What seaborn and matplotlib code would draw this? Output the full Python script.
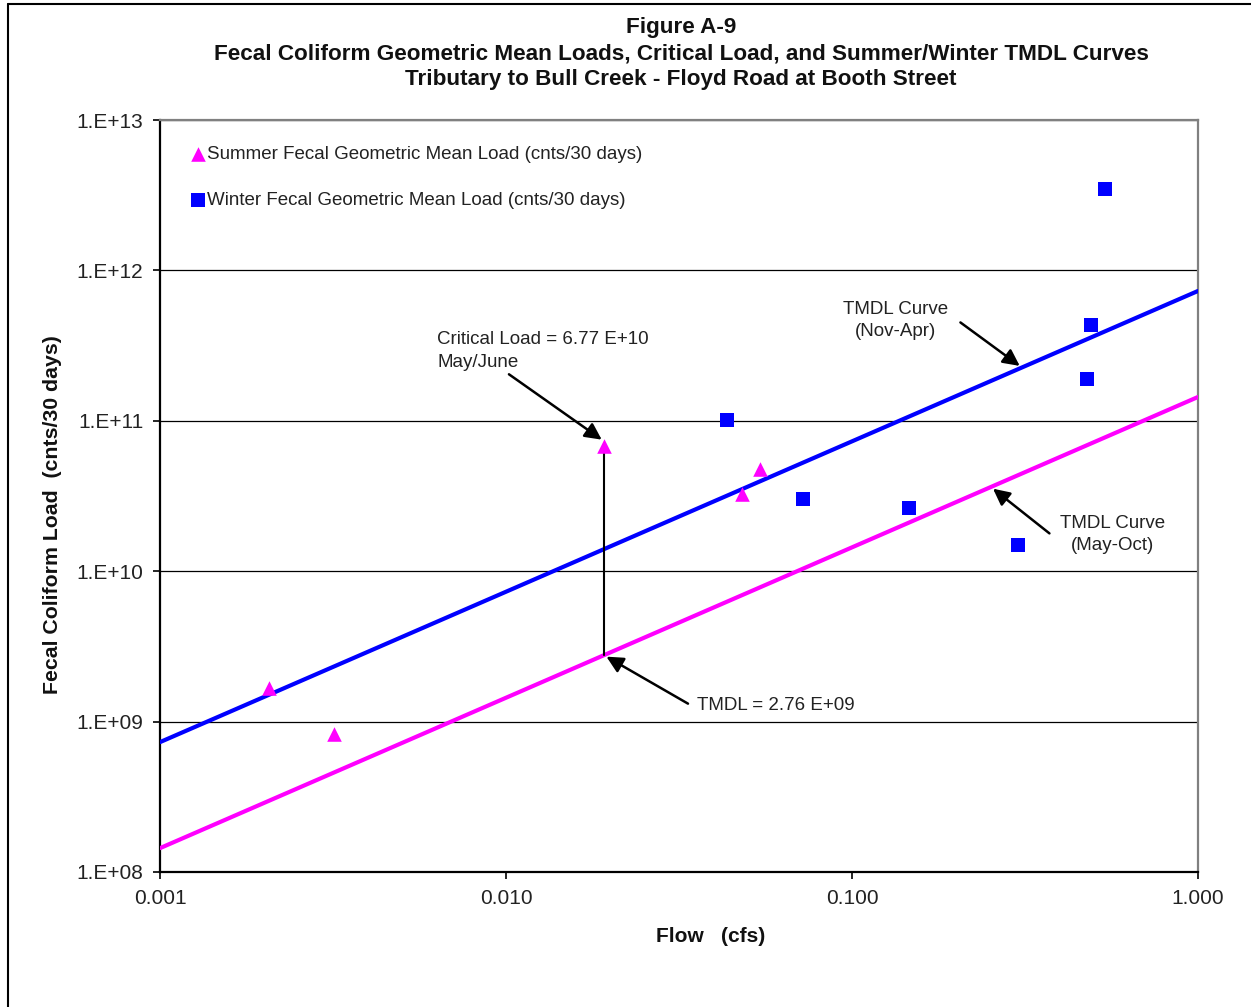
import numpy as np
import pandas as pd
import matplotlib.pyplot as plt
import seaborn as sns
from matplotlib.ticker import FixedLocator, FuncFormatter, NullLocator

# ===============================================
# Data
# ===============================================
summer_flow = [0.00207, 0.00318, 0.0192, 0.0481, 0.0542]
summer_load = [1.67e9, 8.3e8, 6.77e10, 3.26e10, 4.79e10]

winter_flow = [0.0436, 0.0721, 0.146, 0.302, 0.478, 0.491, 0.538]
winter_load = [1.01e11, 3.02e10, 2.63e10, 1.49e10, 1.90e11, 4.33e11, 3.47e12]

# TMDL curves (straight lines on log-log), endpoints at the axis edges
tmdl_flow = [0.001, 1.0]
winter_tmdl = [7.3e8, 7.3e11]
summer_tmdl = [1.44e8, 1.44e11]

# critical load condition
crit_flow = 0.0192
crit_load = 6.77e10
crit_tmdl = 2.76e9

# the two TMDL arrow targets sit on the curves
nov_apr_flow, nov_apr_load = 0.31, 2.26e11
may_oct_flow, may_oct_load = 0.252, 3.63e10

x_ticks = [0.001, 0.01, 0.1, 1.0]
y_ticks = [1e8, 1e9, 1e10, 1e11, 1e12, 1e13]

title_lines = [
    "Figure A-9",
    "Fecal Coliform Geometric Mean Loads, Critical Load, and Summer/Winter TMDL Curves",
    "Tributary to Bull Creek - Floyd Road at Booth Street",
]

MAGENTA = "#FF00FF"
BLUE = "#0000FF"

sns.set_style("white")
plt.rcParams['font.family'] = ['Liberation Sans', 'DejaVu Sans']

fig, ax = plt.subplots(figsize=(12.51, 10.07), dpi=100)
fig.subplots_adjust(left=0.1279, right=0.9576, top=0.8808, bottom=0.1341)

# ===============================================
# Curves and points
# ===============================================
sns.lineplot(x=tmdl_flow, y=winter_tmdl, color=BLUE, lw=3, ax=ax, zorder=3)
sns.lineplot(x=tmdl_flow, y=summer_tmdl, color=MAGENTA, lw=3, ax=ax, zorder=3)

ax.plot([crit_flow, crit_flow], [crit_tmdl, crit_load], color='black', lw=1.5, zorder=4)

sns.scatterplot(x=summer_flow, y=summer_load, marker='^', color=MAGENTA, s=110,
                edgecolor=MAGENTA, linewidth=0, ax=ax, zorder=5,
                label="Summer Fecal Geometric Mean Load (cnts/30 days)")
sns.scatterplot(x=winter_flow, y=winter_load, marker='s', color=BLUE, s=90,
                edgecolor=BLUE, linewidth=0, ax=ax, zorder=5,
                label="Winter Fecal Geometric Mean Load (cnts/30 days)")

ax.set_xscale('log')
ax.set_yscale('log')
ax.set_xlim(0.001, 1.0)
ax.set_ylim(1e8, 1e13)

ax.xaxis.set_major_locator(FixedLocator(x_ticks))
ax.xaxis.set_minor_locator(NullLocator())
ax.yaxis.set_major_locator(FixedLocator(y_ticks))
ax.yaxis.set_minor_locator(NullLocator())
ax.xaxis.set_major_formatter(FuncFormatter(lambda v, p: f"{v:.3f}"))
ax.yaxis.set_major_formatter(FuncFormatter(lambda v, p: f"1.E+{int(round(np.log10(v))):02d}"))

ax.tick_params(axis='both', which='major', direction='out', length=5, width=1.2,
               color='black', labelsize=15, labelcolor='#222222', pad=7,
               bottom=True, left=True)

ax.yaxis.grid(True, color='black', lw=0.9)
ax.xaxis.grid(False)
ax.set_axisbelow(True)

for side in ['left', 'bottom']:
    ax.spines[side].set_color('black')
    ax.spines[side].set_linewidth(1.6)
for side in ['top', 'right']:
    ax.spines[side].set_color('#808080')
    ax.spines[side].set_linewidth(1.6)

ax.set_xlabel("")
ax.set_ylabel("")

# ===============================================
# Legend
# ===============================================
ax.legend(loc='upper left', bbox_to_anchor=(0.02, 0.976), frameon=False,
          fontsize=13.5, labelspacing=1.55, handletextpad=0.0, handlelength=1.0,
          borderaxespad=0.0, labelcolor='#222222')

# ===============================================
# Annotations
# ===============================================
txt_kw = dict(transform=ax.transAxes, fontsize=13.5, color='#222222')
arrow_kw = dict(arrowstyle='-|>,head_length=1.0,head_width=0.5', color='black', lw=1.8)

ax.text(0.267, 0.719, "Critical Load = 6.77 E+10\nMay/June", va='top', ha='left',
        linespacing=1.4, **txt_kw)
ax.annotate("", xy=(crit_flow, crit_load * 1.08), xycoords='data',
            xytext=(0.334, 0.664), textcoords='axes fraction', arrowprops=arrow_kw)

ax.text(0.517, 0.221, "TMDL = 2.76 E+09", va='center', ha='left', **txt_kw)
ax.annotate("", xy=(crit_flow, crit_tmdl), xycoords='data',
            xytext=(0.511, 0.222), textcoords='axes fraction', arrowprops=arrow_kw)

ax.text(0.709, 0.759, "TMDL Curve\n(Nov-Apr)", va='top', ha='center',
        linespacing=1.4, **txt_kw)
ax.annotate("", xy=(nov_apr_flow, nov_apr_load), xycoords='data',
            xytext=(0.769, 0.733), textcoords='axes fraction', arrowprops=arrow_kw)

ax.text(0.918, 0.475, "TMDL Curve\n(May-Oct)", va='top', ha='center',
        linespacing=1.4, **txt_kw)
ax.annotate("", xy=(may_oct_flow, may_oct_load), xycoords='data',
            xytext=(0.859, 0.448), textcoords='axes fraction', arrowprops=arrow_kw)

# ===============================================
# Titles and axis labels
# ===============================================
for i, line in enumerate(title_lines):
    fig.text(681 / 1251, 1 - (28 + 26 * i) / 1007, line, ha='center', va='center',
             fontsize=16.2, fontweight='bold', color='#111111')

fig.text(53 / 1251, 1 - 515 / 1007, "Fecal Coliform Load  (cnts/30 days)", rotation=90,
         ha='center', va='center', fontsize=15.3, fontweight='bold', color='#111111')
fig.text(711 / 1251, 1 - 936 / 1007, "Flow   (cfs)", ha='center', va='center',
         fontsize=15, fontweight='bold', color='#111111')

# outer frame (only left and top edges are visible in the original)
fig.add_artist(plt.Line2D([8 / 1251, 8 / 1251], [0, 1 - 3.5 / 1007],
                          transform=fig.transFigure, color='black', lw=1.5))
fig.add_artist(plt.Line2D([8 / 1251, 1], [1 - 3.5 / 1007, 1 - 3.5 / 1007],
                          transform=fig.transFigure, color='black', lw=1.5))

fig.savefig("out.png", dpi=100)
